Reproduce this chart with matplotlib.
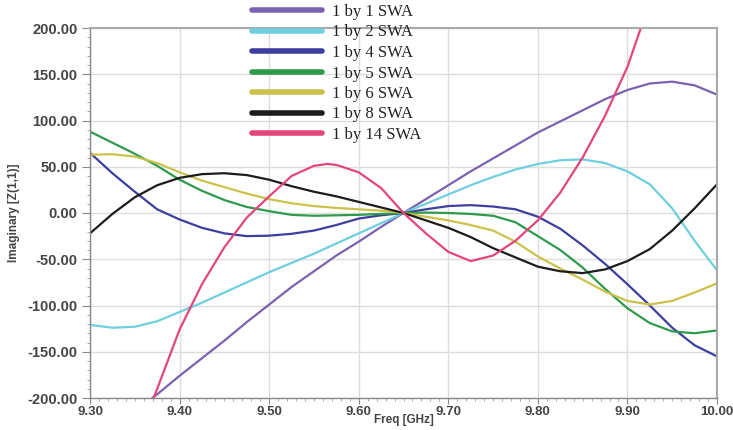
import matplotlib
matplotlib.use('Agg')
import matplotlib.pyplot as plt
import numpy as np
from matplotlib.ticker import MultipleLocator, FormatStrFormatter

# frequency grid (GHz)
freq = [9.300, 9.325, 9.350, 9.375, 9.400, 9.425, 9.450, 9.475, 9.500, 9.525,
        9.550, 9.575, 9.600, 9.625, 9.650, 9.675, 9.700, 9.725, 9.750, 9.775,
        9.800, 9.825, 9.850, 9.875, 9.900, 9.925, 9.950, 9.975, 10.000]

# 1 by 1 SWA starts below the axis, so it has its own grid
freq_1x1 = freq[2:]
im_1x1 = [-215, -196, -176, -157, -138, -118, -99, -80, -63, -46, -31, -15, 0,
          15, 30, 45, 59, 73, 87, 99, 111, 123, 133, 140, 142, 138, 128]

im_1x2 = [-121, -124, -123, -117, -107, -97, -86, -75, -64, -54, -44, -33, -22, -11, 0,
          10, 20, 30, 39, 47, 53, 57, 58, 54, 45, 31, 5, -30, -62]

im_1x4 = [65, 43, 23, 4, -7, -16, -22, -25, -24.5, -22.5, -19, -13, -6, -2.5, 0,
          4, 7.5, 8.5, 7, 4, -4, -17, -35, -55, -77, -100, -124, -143, -155]

im_1x5 = [88, 76, 64, 51, 36, 24, 14, 6.5, 2, -2, -3, -2.5, -2, -1, 0,
          0.5, 0, -1, -3, -10, -25, -40, -59, -82, -103, -119, -128, -130, -127]

im_1x6 = [63, 63.5, 61, 54, 44, 35, 28, 21, 15, 10.5, 7.5, 5.5, 4, 2.5, 0,
          -4, -8, -13, -19, -31, -47, -60, -72, -85, -95, -99, -95, -86, -76]

im_1x8 = [-22, -1, 17, 30, 38, 42, 43, 41, 36, 29, 23, 18, 12, 6, 0,
          -8, -16, -26, -38, -48, -58, -63, -65, -61, -52, -39, -19, 5, 31]

# 1 by 14 SWA leaves the plot at both ends
freq_1x14 = [9.370, 9.400, 9.425, 9.450, 9.475, 9.500, 9.525, 9.550, 9.565, 9.575,
             9.600, 9.625, 9.650, 9.675, 9.700, 9.725, 9.750, 9.775, 9.800, 9.825,
             9.850, 9.875, 9.900, 9.915, 9.925]
im_1x14 = [-203, -126, -77, -37, -5, 18, 40, 51, 53, 52,
           44, 27, 0, -22, -42, -52, -46, -30, -8, 22,
           60, 105, 158, 200, 225]

series = [
    ('1 by 1 SWA', freq_1x1, im_1x1, '#7b62b0'),
    ('1 by 2 SWA', freq, im_1x2, '#6fcfdf'),
    ('1 by 4 SWA', freq, im_1x4, '#3c3f9e'),
    ('1 by 5 SWA', freq, im_1x5, '#2f9a4c'),
    ('1 by 6 SWA', freq, im_1x6, '#cbc24c'),
    ('1 by 8 SWA', freq, im_1x8, '#1c1c1c'),
    ('1 by 14 SWA', freq_1x14, im_1x14, '#e2467c'),
]

plt.rcParams['font.family'] = ['Liberation Sans', 'DejaVu Sans']

fig = plt.figure(figsize=(7.33, 4.30), dpi=100)
ax = fig.add_axes([90/733, 1-398/430, (717-90)/733, (398-28)/430])

lines = []
for name, f, v, c in series:
    ln, = ax.plot(f, v, color=c, lw=1.6, label=name, solid_capstyle='round',
                  solid_joinstyle='round')
    lines.append(ln)

ax.set_xlim(9.30, 10.00)
ax.set_ylim(-200, 200)
ax.xaxis.set_major_locator(MultipleLocator(0.1))
ax.xaxis.set_minor_locator(MultipleLocator(0.01))
ax.yaxis.set_major_locator(MultipleLocator(50))
ax.yaxis.set_minor_locator(MultipleLocator(10))
ax.xaxis.set_major_formatter(FormatStrFormatter('%.2f'))
ax.yaxis.set_major_formatter(FormatStrFormatter('%.2f'))
ax.grid(True, which='major', color='#dddddd', lw=1.0)
ax.set_axisbelow(True)

for s in ['top', 'right']:
    ax.spines[s].set_color('#aaaaaa')
    ax.spines[s].set_linewidth(1.5)
for s in ['left', 'bottom']:
    ax.spines[s].set_color('#888888')
    ax.spines[s].set_linewidth(1.0)

ax.tick_params(axis='y', which='major', length=6, color='#888888',
               labelsize=10.5, labelcolor='#444444', pad=3)
ax.tick_params(axis='x', which='major', length=4, color='#888888',
               labelsize=9.5, labelcolor='#444444', pad=2)
ax.tick_params(axis='both', which='minor', length=2.5, color='#999999')
for lab in ax.get_xticklabels() + ax.get_yticklabels():
    lab.set_fontweight('bold')

ax.set_xlabel('Freq [GHz]', fontsize=8.5, fontweight='bold', color='#444444', labelpad=-3)
ax.set_ylabel('Imaginary [Z(1,1)]', fontsize=8.5, fontweight='bold', color='#444444', labelpad=5)

leg = fig.legend(handles=lines, loc='upper left', bbox_to_anchor=(252/733, 1-4/430),
                 bbox_transform=fig.transFigure, frameon=False,
                 prop={'family': 'Liberation Serif', 'size': 12},
                 handlelength=4.2, handletextpad=0.6, labelspacing=0.27,
                 borderpad=0, borderaxespad=0)
for h in leg.legend_handles:
    h.set_linewidth(4)
for t in leg.get_texts():
    t.set_color('#222222')

fig.savefig('out.png', dpi=100)
